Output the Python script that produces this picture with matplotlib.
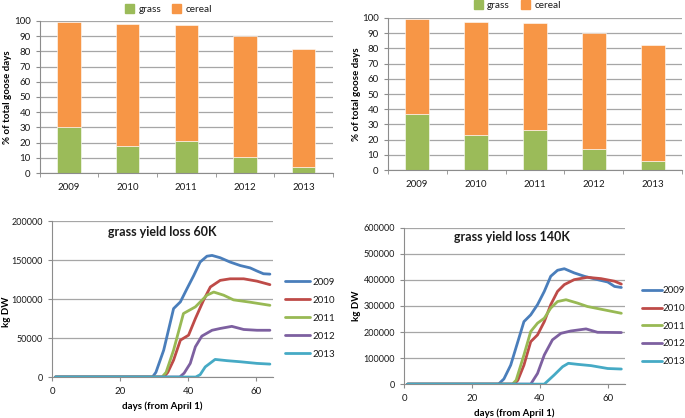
import matplotlib
matplotlib.use("Agg")
import matplotlib.pyplot as plt
from matplotlib.patches import Patch

plt.rcParams['font.family'] = ['Lato', 'DejaVu Sans']
plt.rcParams['font.size'] = 7
plt.rcParams['text.color'] = '#1a1a1a'

# --- bar data (% of total goose days) ---
years = ['2009', '2010', '2011', '2012', '2013']
grass_left = [30.5, 17.5, 21, 10.5, 4]
cereal_left = [68.5, 80.5, 76, 79.5, 77.5]
grass_right = [37, 23, 26.5, 14, 6]
cereal_right = [62, 74.5, 70.5, 76, 76]

# --- grass yield loss 60K (days from April 1, kg DW) ---
d60_2009 = [1, 29.5, 30.5, 32.8, 35.7, 37.7, 39.6, 41.6, 43.5, 45.5, 47, 49.4, 52.3, 55.3, 58.2, 60.2, 62.1, 64]
v60_2009 = [0, 0, 6000, 34500, 87800, 96400, 113000, 130000, 147500, 155000, 156000, 153000, 147500, 143000, 140000, 136000, 132500, 132000]
d60_2010 = [1, 32.8, 34, 35.7, 37.7, 40.1, 42.1, 44.5, 46.5, 49.4, 52.3, 56.3, 60.2, 64]
v60_2010 = [0, 0, 6000, 21700, 47300, 53700, 75000, 98500, 115500, 124000, 126000, 126000, 123000, 118500]
d60_2011 = [1, 32.3, 33.5, 35.7, 38.6, 42.1, 45.5, 47.5, 50.4, 53.3, 58.2, 64]
v60_2011 = [0, 0, 6000, 34500, 81500, 90000, 105000, 109000, 105000, 99000, 96000, 92000]
d60_2012 = [1, 37.5, 38.8, 40.6, 42.1, 44, 47, 49.4, 52.8, 56.3, 60.2, 64]
v60_2012 = [0, 0, 5000, 17500, 38800, 52500, 60000, 62300, 65000, 61000, 60000, 60000]
d60_2013 = [1, 42.2, 43.5, 45, 47.9, 51.4, 55.3, 60.2, 64]
v60_2013 = [0, 0, 3000, 13000, 22600, 21000, 19600, 17500, 16600]

# --- grass yield loss 140K ---
d140_2009 = [1, 27.8, 29.4, 31.4, 35.3, 37.3, 39.3, 41.3, 43.2, 45.2, 47.2, 50.1, 53.1, 57, 60, 62, 64]
v140_2009 = [0, 0, 20000, 73000, 240000, 266000, 305000, 356000, 414000, 437000, 443000, 427000, 414000, 401000, 392000, 375000, 371000]
d140_2010 = [1, 32.4, 33.5, 35.3, 37.3, 39.3, 41.3, 43.2, 45.2, 47.2, 50.1, 54, 58, 62, 64]
v140_2010 = [0, 0, 15000, 73000, 163000, 189000, 240000, 305000, 356000, 382000, 401000, 410000, 405000, 395000, 384000]
d140_2011 = [1, 31.9, 33, 35.3, 37.3, 39.3, 41.3, 43.2, 45.2, 47.7, 51.1, 54, 59, 64]
v140_2011 = [0, 0, 15000, 112000, 202000, 234000, 253000, 292000, 317000, 324000, 311000, 298000, 285000, 272000]
d140_2012 = [1, 37.3, 39.3, 41.3, 43.7, 46.2, 49.1, 53.6, 57, 64]
v140_2012 = [0, 0, 41000, 112000, 170000, 195000, 204000, 212000, 199000, 198000]
d140_2013 = [1, 41.3, 44.2, 46.7, 48.4, 51.1, 55.1, 60, 64]
v140_2013 = [0, 0, 35000, 67000, 80000, 76000, 71000, 60000, 58000]

GREEN = '#9BBB59'
ORANGE = '#F79646'
line_colors = ['#4A7EBB', '#BE4B48', '#98B954', '#7D60A0', '#46AAC5']
GRID = '#A6A6A6'

fig = plt.figure(figsize=(6.85, 4.18), dpi=100)


def style_axes(ax):
    for s in ['top', 'right']:
        ax.spines[s].set_visible(False)
    for s in ['left', 'bottom']:
        ax.spines[s].set_color('#8C8C8C')
        ax.spines[s].set_linewidth(0.8)
    ax.yaxis.grid(True, color=GRID, linewidth=0.9)
    ax.set_axisbelow(True)
    ax.tick_params(colors='#8C8C8C', labelcolor='#1a1a1a', length=3, width=0.8)


def bar_panel(rect, grass, cereal, leg_anchor, ylab_x):
    ax = fig.add_axes(rect)
    x = range(len(years))
    ax.bar(x, grass, width=0.4, color=GREEN, edgecolor='white', linewidth=0.4)
    ax.bar(x, cereal, width=0.4, bottom=grass, color=ORANGE, edgecolor='white', linewidth=0.4)
    style_axes(ax)
    ax.set_xlim(-0.5, len(years) - 0.5)
    ax.set_ylim(0, 100)
    ax.set_yticks(range(0, 101, 10))
    ax.set_xticks(list(x))
    ax.set_xticklabels(years)
    ax.set_xticks([i + 0.5 for i in range(-1, len(years))], minor=True)
    ax.tick_params(axis='x', which='major', length=0, pad=7)
    ax.tick_params(axis='x', which='minor', length=3, color='#8C8C8C')
    ax.set_ylabel('% of total goose days', fontweight='bold', fontsize=7)
    ax.yaxis.set_label_coords(ylab_x, 0.5)
    handles = [Patch(color=GREEN, label='grass'), Patch(color=ORANGE, label='cereal')]
    fig.legend(handles=handles, loc='center', bbox_to_anchor=leg_anchor, ncol=2,
               frameon=False, handlelength=0.9, handleheight=0.9, columnspacing=1.1,
               handletextpad=0.45, fontsize=7.2)
    return ax


def line_panel(rect, series, ymax, ystep, title, title_xy, leg_anchor, spacing,
               hlen, tpad, ylab_xy):
    ax = fig.add_axes(rect)
    for (d, v), c, yr in zip(series, line_colors, years):
        ax.plot(d, v, color=c, linewidth=2.0, label=yr, solid_capstyle='round')
    style_axes(ax)
    ax.set_xlim(0, 65)
    ax.set_ylim(0, ymax)
    ax.set_xticks([0, 20, 40, 60])
    ax.set_yticks(range(0, ymax + 1, ystep))
    ax.tick_params(axis='x', pad=4)
    ax.tick_params(axis='y', labelsize=6.5)
    ax.set_xlabel('days (from April 1)', fontweight='bold', fontsize=7)
    ax.set_ylabel('kg DW', fontweight='bold', fontsize=7)
    ax.yaxis.set_label_coords(*ylab_xy)
    ax.text(title_xy[0], title_xy[1], title, transform=ax.transAxes, ha='center',
            va='center', fontweight='bold', fontsize=9)
    fig.legend(loc='upper left', bbox_to_anchor=leg_anchor, frameon=False,
               handles=ax.get_lines(), handlelength=hlen, handletextpad=tpad,
               labelspacing=spacing, fontsize=7, borderaxespad=0, borderpad=0)
    return ax


bar_panel([0.058, 0.586, 0.428, 0.364], grass_left, cereal_left, (0.246, 0.978), -0.096)
bar_panel([0.566, 0.593, 0.430, 0.364], grass_right, cereal_right, (0.755, 0.988), -0.090)

line_panel([0.076, 0.098, 0.323, 0.373],
           [(d60_2009, v60_2009), (d60_2010, v60_2010), (d60_2011, v60_2011),
            (d60_2012, v60_2012), (d60_2013, v60_2013)],
           200000, 50000, 'grass yield loss 60K', (0.5, 0.93), (0.416, 0.336), 0.93,
           2.6, 0.25, (-0.186, 0.42))
line_panel([0.590, 0.081, 0.322, 0.374],
           [(d140_2009, v140_2009), (d140_2010, v140_2010), (d140_2011, v140_2011),
            (d140_2012, v140_2012), (d140_2013, v140_2013)],
           600000, 100000, 'grass yield loss 140K', (0.49, 0.94), (0.937, 0.315), 0.89,
           2.05, 0.05, (-0.195, 0.5))

fig.savefig('out.png', dpi=100)
